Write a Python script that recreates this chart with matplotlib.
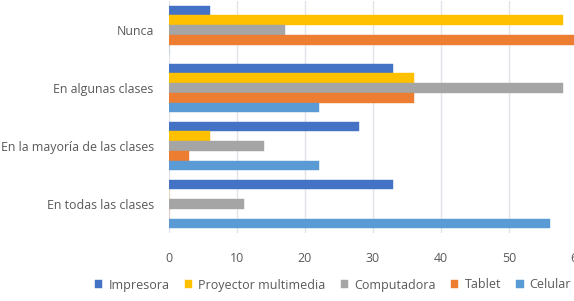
import matplotlib
matplotlib.use("Agg")
import matplotlib.pyplot as plt
import numpy as np

categories = ["Nunca", "En algunas clases", "En la mayoría de las clases", "En todas las clases"]
series_names = ["Impresora", "Proyector multimedia", "Computadora", "Tablet", "Celular"]
impresora = [6, 33, 28, 33]
proyector = [58, 36, 6, 0]
computadora = [17, 58, 14, 11]
tablet = [60, 36, 3, 0]
celular = [0, 22, 22, 56]
colors = ["#4472C4", "#FFC000", "#A5A5A5", "#ED7D31", "#5B9BD5"]
xticks = [0, 10, 20, 30, 40, 50, 60]

plt.rcParams['font.family'] = ['Open Sans', 'DejaVu Sans']

fig = plt.figure(figsize=(5.74, 3.01), dpi=100)
ax = fig.add_axes([169/574, (301-233)/301, 408/574, 232/301])

data = [impresora, proyector, computadora, tablet, celular]
n = len(categories)
ypos = np.arange(n)[::-1]  # Nunca at top
h = 0.167
for i, (vals, name, c) in enumerate(zip(data, series_names, colors)):
    ax.barh(ypos + (2 - i) * h, vals, height=h, color=c, label=name,
            edgecolor=c, linewidth=0.3, zorder=3)

ax.set_xlim(0, 60)
ax.set_ylim(-0.5, n - 0.5)
ax.set_xticks(xticks)
ax.set_xticklabels([str(v) for v in xticks])
ax.set_yticks(ypos)
ax.set_yticklabels(categories)
ax.tick_params(axis='both', length=0, colors='#595959', labelsize=8.9)
ax.tick_params(axis='y', pad=11)
ax.tick_params(axis='x', pad=14)
ax.grid(axis='x', color='#E1E3EA', linewidth=1, zorder=0)
for s in ax.spines.values():
    s.set_visible(False)

handles, labels = ax.get_legend_handles_labels()
leg = fig.legend(handles, labels, loc='center', bbox_to_anchor=(333/574, (301-285)/301),
                 ncol=5, frameon=False, fontsize=9, handlelength=0.6, handleheight=0.6,
                 handletextpad=0.5, columnspacing=1.2, labelcolor='#595959')

fig.savefig("out.png", dpi=100)
